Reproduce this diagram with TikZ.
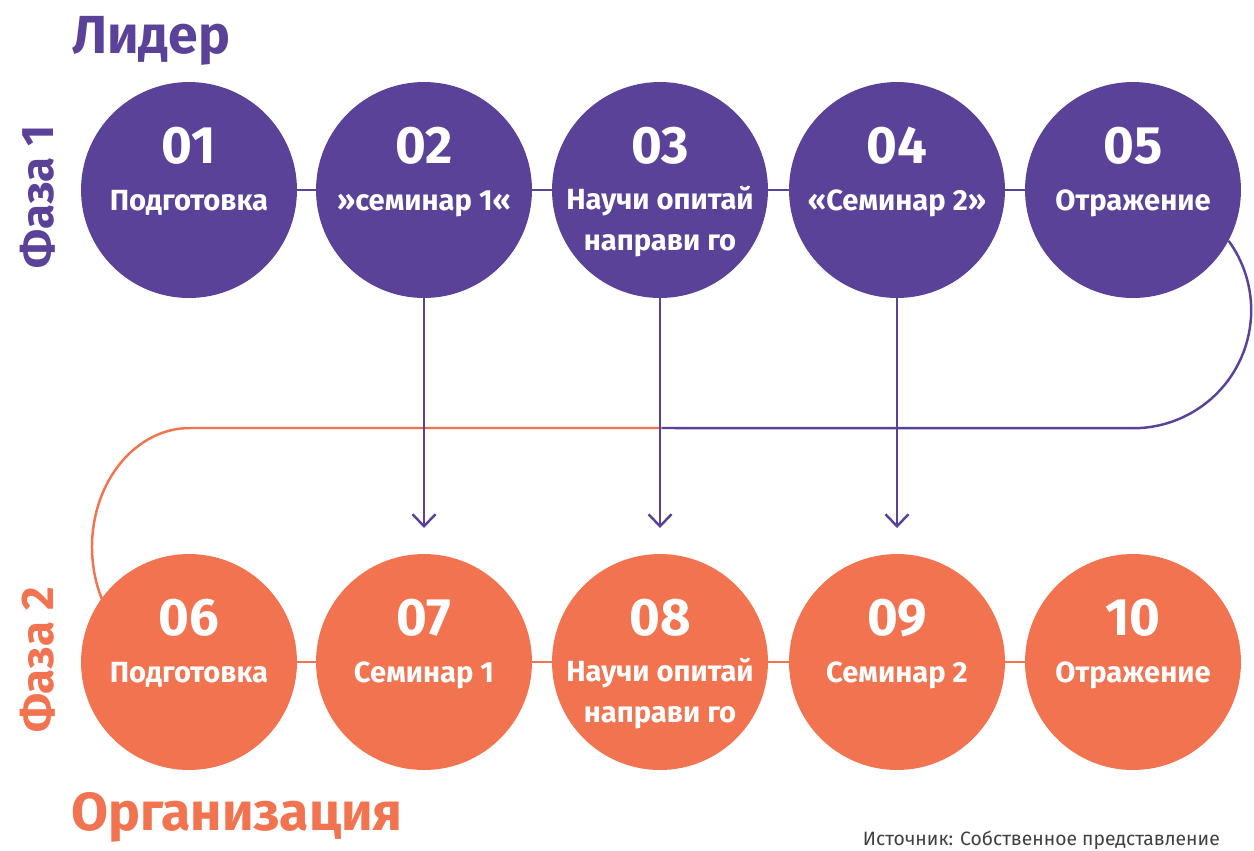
\documentclass[tikz,border=0pt]{standalone}
\usepackage{fontspec}
\setmainfont{Fira Sans}
\usetikzlibrary{arrows.meta}
\definecolor{lila}{HTML}{5A4299}
\definecolor{koral}{HTML}{F27350}

\begin{document}
\begin{tikzpicture}[
  x=0.02cm, y=-0.02cm,
  kreis/.style={circle, minimum size=4.32cm, inner sep=0pt},
  nr/.style={text=white, font=\bfseries\fontsize{30}{30}\selectfont, anchor=base},
  txt/.style={text=white, font=\bfseries\fontsize{16.6}{22.8}\selectfont, anchor=base, align=center},
  lp/.style={draw=lila, line width=1.4pt},
  lo/.style={draw=koral, line width=1.4pt},
  pf/.style={lp, -{Straight Barb[length=2.4mm, width=4.6mm]}},
  titel/.style={font=\bfseries\fontsize{30.5}{30.5}\selectfont, anchor=base west},
  fase/.style={font=\bfseries\fontsize{26}{26}\selectfont, anchor=base, rotate=90}
]
\useasboundingbox (0,0) rectangle (1254,850);
% Phase 1
\node[kreis, fill=lila]  (p1) at (189,190)  {};
\node[kreis, fill=lila]  (p2) at (424,190)  {};
\node[kreis, fill=lila]  (p3) at (660,190)  {};
\node[kreis, fill=lila]  (p4) at (897,190)  {};
\node[kreis, fill=lila]  (p5) at (1133,190) {};
\node[nr]  (n1) at (189,163)  {01};
\node[nr]  (n2) at (424,163)  {02};
\node[nr]  (n3) at (660,163)  {03};
\node[nr]  (n4) at (897,163)  {04};
\node[nr]  (n5) at (1133,163) {05};
\node[txt] (t1) at (189,210)  {Подготовка};
\node[txt] (t2) at (424,210)  {»семинар 1«};
\node[txt] (t3) at (660,250)  {Научи опитай\\направи го};
\node[txt] (t4) at (897,210)  {«Семинар 2»};
\node[txt] (t5) at (1133,210) {Отражение};
% Phase 2
\node[kreis, fill=koral] (k1) at (189,662)  {};
\node[kreis, fill=koral] (k2) at (424,662)  {};
\node[kreis, fill=koral] (k3) at (660,662)  {};
\node[kreis, fill=koral] (k4) at (897,662)  {};
\node[kreis, fill=koral] (k5) at (1133,662) {};
\node[nr]  (m1) at (189,635)  {06};
\node[nr]  (m2) at (424,635)  {07};
\node[nr]  (m3) at (660,635)  {08};
\node[nr]  (m4) at (897,635)  {09};
\node[nr]  (m5) at (1133,635) {10};
\node[txt] (u1) at (189,682)  {Подготовка};
\node[txt] (u2) at (424,682)  {Семинар 1};
\node[txt] (u3) at (660,722)  {Научи опитай\\направи го};
\node[txt] (u4) at (897,682)  {Семинар 2};
\node[txt] (u5) at (1133,682) {Отражение};
% titles
\node[titel, text=lila]  (ld)  at (66,53)  {Лидер};
\node[titel, text=koral] (org) at (65,830) {Организация};
\node[fase, text=lila]   (f1)  at (53,197) {Фаза 1};
\node[fase, text=koral]  (f2)  at (53,660) {Фаза 2};
\node[anchor=base east, font=\fontsize{11}{11}\selectfont, text=black!75] (src) at (1226,845) {Источник: Собственное представление};
% connectors
\coordinate (mi) at (662,428);
\coordinate (li) at (190,428);
\coordinate (s2) at (424,528);
\coordinate (s3) at (660,528);
\coordinate (s4) at (897,528);
\draw[lp] (p1) -- (p2) -- (p3) -- (p4) -- (p5);
\draw[lo] (k1) -- (k2) -- (k3) -- (k4) -- (k5);
\draw[lp] (p5.-28) arc[start angle=-36, end angle=90, radius=118] -- (mi);
\draw[lo] (mi) -- (li) arc[start angle=-90, end angle=-206, x radius=98, y radius=119];
\draw[pf] (p2) -- (s2);
\draw[pf] (p3) -- (s3);
\draw[pf] (p4) -- (s4);
\end{tikzpicture}
\end{document}
